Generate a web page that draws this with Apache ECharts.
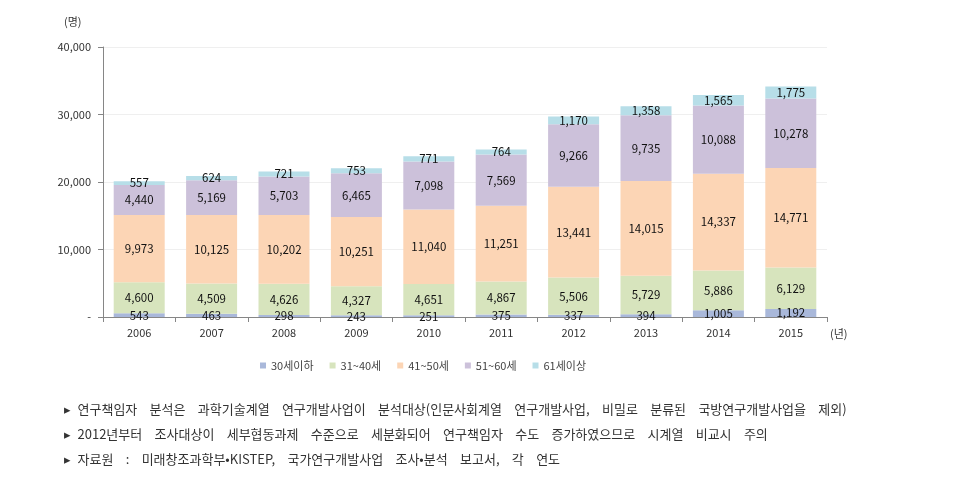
<!DOCTYPE html>
<html><head><meta charset="utf-8">
<script src="https://cdn.jsdelivr.net/npm/echarts@6/dist/echarts.min.js"></script>
<style>html,body{margin:0;padding:0;background:#fff}#c{width:957px;height:488px}</style>
</head><body><div id="c"></div>
<script>
const years = ['2006','2007','2008','2009','2010','2011','2012','2013','2014','2015'];
const seriesNames = ['30세이하','31~40세','41~50세','51~60세','61세이상'];
const age30 = [543,463,298,243,251,375,337,394,1005,1192];
const age31_40 = [4600,4509,4626,4327,4651,4867,5506,5729,5886,6129];
const age41_50 = [9973,10125,10202,10251,11040,11251,13441,14015,14337,14771];
const age51_60 = [4440,5169,5703,6465,7098,7569,9266,9735,10088,10278];
const age61 = [557,624,721,753,771,764,1170,1358,1565,1775];
const yTicks = [0,10000,20000,30000,40000];
const notes = [
  '연구책임자 분석은 과학기술계열 연구개발사업이 분석대상(인문사회계열 연구개발사업, 비밀로 분류된 국방연구개발사업을 제외)',
  '2012년부터 조사대상이 세부협동과제 수준으로 세분화되어 연구책임자 수도 증가하였으므로 시계열 비교시 주의',
  '자료원 : 미래창조과학부•KISTEP, 국가연구개발사업 조사•분석 보고서, 각 연도'
];
const colors = ['#A9B8DA','#D7E4BD','#FCD5B5','#CCC1DA','#B7DEE8'];
const allData = [age30, age31_40, age41_50, age51_60, age61];
const font = '"Malgun Gothic","Noto Sans CJK KR","Noto Sans",sans-serif';
const fmt = v => Number(v).toLocaleString('en-US');
const wide = s => s.replace(/ /g, '\u2002  ');
const chart = echarts.init(document.getElementById('c'), null, {renderer:'canvas'});
chart.setOption({
  animation:false,
  backgroundColor:'#fff',
  textStyle:{fontFamily:font},
  grid:{left:103,right:130,top:47,bottom:171},
  legend:{
    data:seriesNames, left:255, top:355, itemWidth:6, itemHeight:6, itemGap:16,
    icon:'rect', textStyle:{fontSize:11,color:'#444',fontFamily:font}
  },
  xAxis:{
    type:'category', data:years,
    axisLine:{lineStyle:{color:'#868686'}},
    axisTick:{show:true,length:5,lineStyle:{color:'#868686'}},
    axisLabel:{fontSize:11,color:'#333',margin:10,fontFamily:font}
  },
  yAxis:{
    type:'value', min:yTicks[0], max:yTicks[yTicks.length-1], interval:10000,
    axisLine:{show:true,lineStyle:{color:'#868686'}},
    axisTick:{show:true,length:5,lineStyle:{color:'#868686'}},
    splitLine:{lineStyle:{color:'#efefef'}},
    axisLabel:{fontSize:11,color:'#333',margin:12,fontFamily:font,
      formatter:v=> v===0 ? '-' : fmt(v)}
  },
  series: seriesNames.map((n,i)=>({
    name:n, type:'bar', stack:'total', barWidth:51,
    data: allData[i],
    itemStyle:{color:colors[i]},
    label:{show:true, position:'inside', formatter:p=>fmt(p.value),
      fontSize:11.5, color:'#111', fontFamily:font}
  })),
  graphic:[
    {type:'text', left:64, top:16, style:{text:'(명)', fontSize:11, fill:'#333', fontFamily:font}},
    {type:'text', left:830, top:328, style:{text:'(년)', fontSize:11, fill:'#333', fontFamily:font}},
    ...notes.map((t,i)=>({type:'text', left:64, top:403+i*25,
      style:{text:'▸\u2002' + wide(t), fontSize:13, fill:'#333', fontFamily:font}}))
  ]
});
</script></body></html>
